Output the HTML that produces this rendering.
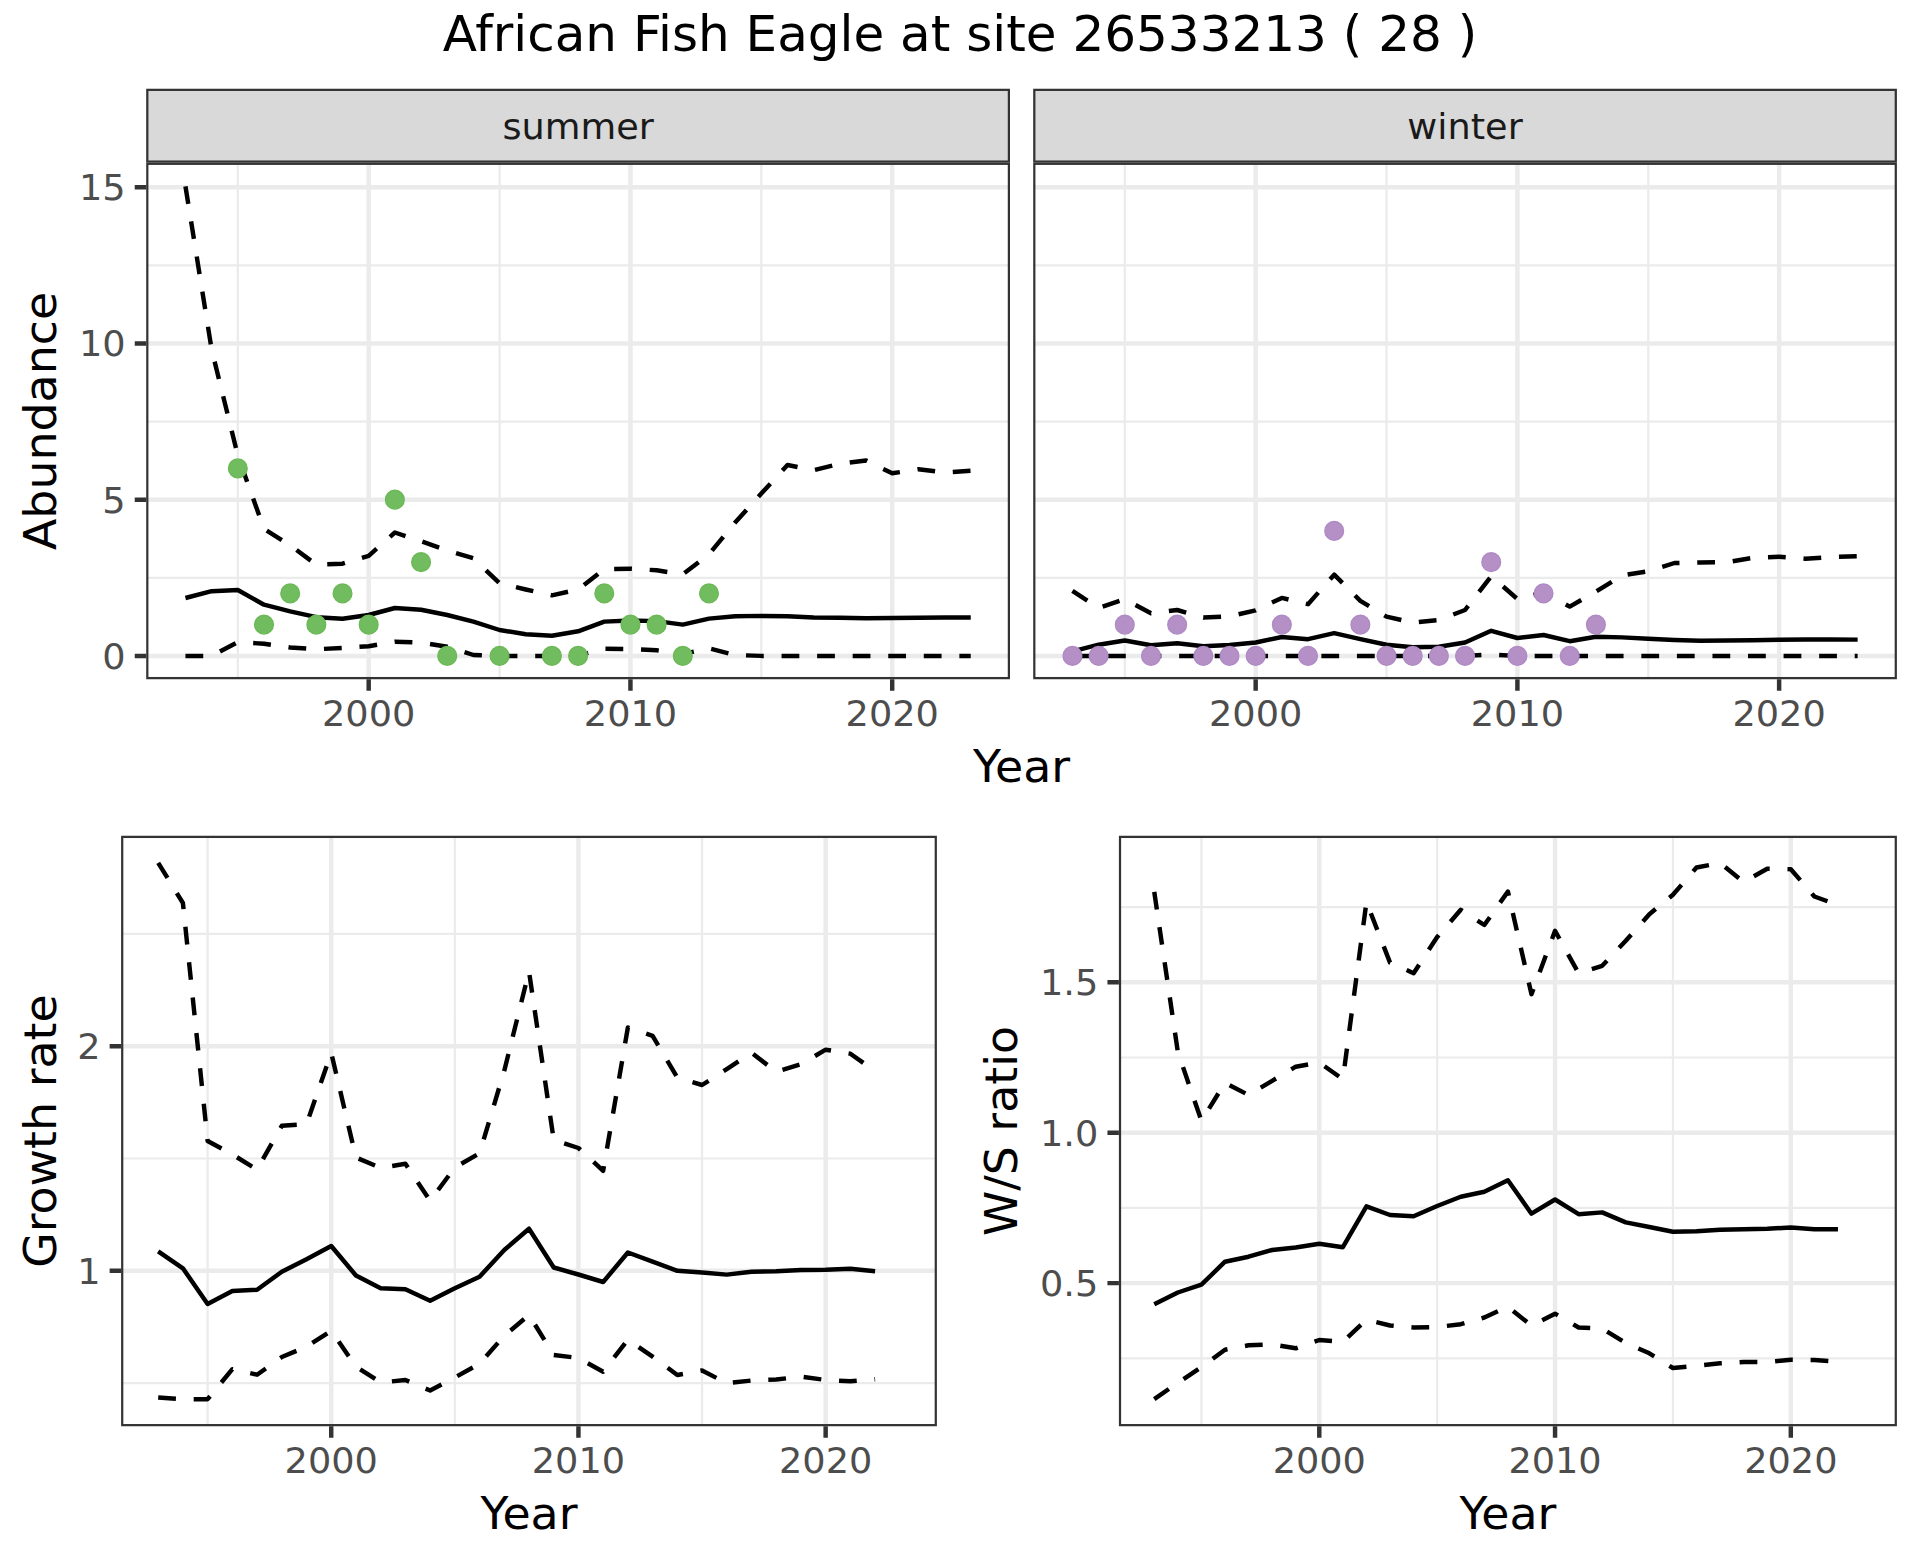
<!DOCTYPE html>
<html lang="en"><head><meta charset="utf-8"><title>African Fish Eagle at site 26533213 ( 28 )</title>
<style>html,body{margin:0;padding:0;background:#FFFFFF}svg{display:block}text{font-family:"DejaVu Sans", "Liberation Sans", sans-serif}</style></head><body>
<svg width="1920" height="1560" viewBox="0 0 1920 1560">
<rect x="0" y="0" width="1920" height="1560" fill="#FFFFFF"/>
<text x="960" y="50.5" font-size="50" fill="#000000" text-anchor="middle">African Fish Eagle at site 26533213 ( 28 )</text>
<clipPath id="c1"><rect x="146.2" y="162.7" width="863.8" height="516.5"/></clipPath>
<g clip-path="url(#c1)">
<rect x="146.2" y="162.7" width="863.8" height="516.5" fill="#FFFFFF"/>
<path d="M146.2 577.77H1010M146.2 421.52H1010M146.2 265.27H1010M237.82 162.7V679.2M499.57 162.7V679.2M761.33 162.7V679.2" stroke="#EBEBEB" stroke-width="2.22" fill="none"/>
<path d="M146.2 655.9H1010M146.2 499.65H1010M146.2 343.4H1010M146.2 187.15H1010M368.69 162.7V679.2M630.45 162.7V679.2M892.21 162.7V679.2" stroke="#EBEBEB" stroke-width="4.45" fill="none"/>
<polyline points="185.46,598 211.64,591.2 237.82,590 263.99,604.7 290.17,611.3 316.34,617.2 342.52,618.8 368.69,615 394.87,608 421.05,609.7 447.22,615 473.4,621.7 499.57,630 525.75,634.2 551.92,635.8 578.1,631.3 604.28,621.6 630.45,620.5 656.63,621.1 682.8,624.6 708.98,618.6 735.15,616.2 761.33,615.9 787.51,616.3 813.68,617.5 839.86,617.8 866.03,618.2 892.21,618 918.38,617.8 944.56,617.5 970.74,617.5" fill="none" stroke="#000000" stroke-width="4.45" stroke-linejoin="round" stroke-linecap="butt"/>
<polyline points="185.46,186.3 211.64,349.5 237.82,455.5 263.99,528.8 290.17,545.3 316.34,564.7 342.52,563.7 368.69,555.8 394.87,532.5 421.05,541.2 447.22,550.4 473.4,558.3 499.57,583.2 525.75,589.5 551.92,595.3 578.1,589.5 604.28,569.2 630.45,568.7 656.63,570.3 682.8,574.3 708.98,554.3 735.15,522.5 761.33,493.5 787.51,465 813.68,470.2 839.86,463.8 866.03,460.5 892.21,473.3 918.38,469.2 944.56,472.5 970.74,470.8" fill="none" stroke="#000000" stroke-width="4.45" stroke-linejoin="round" stroke-linecap="butt" stroke-dasharray="17.78 17.78" stroke-dashoffset="0"/>
<polyline points="185.46,655.9 211.64,655.9 237.82,642.2 263.99,643.7 290.17,647.5 316.34,649.2 342.52,648 368.69,646.2 394.87,641.7 421.05,642.5 447.22,646.7 473.4,655 499.57,655.9 525.75,655.9 551.92,655.9 578.1,655.5 604.28,648.8 630.45,649 656.63,650.3 682.8,654 708.98,648.4 735.15,655 761.33,655.9 787.51,655.9 813.68,655.9 839.86,655.9 866.03,655.9 892.21,655.9 918.38,655.9 944.56,655.9 970.74,655.9" fill="none" stroke="#000000" stroke-width="4.45" stroke-linejoin="round" stroke-linecap="butt" stroke-dasharray="17.78 17.78" stroke-dashoffset="0"/>
<g fill="#72BC60" stroke="#6AB956" stroke-width="1.3">
<circle cx="237.82" cy="468.4" r="9.4"/>
<circle cx="263.99" cy="624.65" r="9.4"/>
<circle cx="290.17" cy="593.4" r="9.4"/>
<circle cx="316.34" cy="624.65" r="9.4"/>
<circle cx="342.52" cy="593.4" r="9.4"/>
<circle cx="368.69" cy="624.65" r="9.4"/>
<circle cx="394.87" cy="499.65" r="9.4"/>
<circle cx="421.05" cy="562.15" r="9.4"/>
<circle cx="447.22" cy="655.9" r="9.4"/>
<circle cx="499.57" cy="655.9" r="9.4"/>
<circle cx="551.92" cy="655.9" r="9.4"/>
<circle cx="578.1" cy="655.9" r="9.4"/>
<circle cx="604.28" cy="593.4" r="9.4"/>
<circle cx="630.45" cy="624.65" r="9.4"/>
<circle cx="656.63" cy="624.65" r="9.4"/>
<circle cx="682.8" cy="655.9" r="9.4"/>
<circle cx="708.98" cy="593.4" r="9.4"/>
</g>
<rect x="146.2" y="162.7" width="863.8" height="516.5" fill="none" stroke="#333333" stroke-width="4.45"/>
</g>
<clipPath id="c2"><rect x="146.2" y="88.75" width="863.8" height="73.95"/></clipPath>
<rect clip-path="url(#c2)" x="146.2" y="88.75" width="863.8" height="73.95" fill="#D9D9D9" stroke="#333333" stroke-width="4.45"/>
<text transform="translate(578.1 139) scale(1 0.965)" font-size="36.67" fill="#1A1A1A" text-anchor="middle">summer</text>
<path d="M368.69 679.2V690.66M630.45 679.2V690.66M892.21 679.2V690.66" stroke="#333333" stroke-width="4.45" fill="none"/>
<text transform="translate(368.69 726.05) scale(1 0.965)" font-size="36.67" fill="#4D4D4D" text-anchor="middle">2000</text>
<text transform="translate(630.45 726.05) scale(1 0.965)" font-size="36.67" fill="#4D4D4D" text-anchor="middle">2010</text>
<text transform="translate(892.21 726.05) scale(1 0.965)" font-size="36.67" fill="#4D4D4D" text-anchor="middle">2020</text>
<path d="M134.74 655.9H146.2M134.74 499.65H146.2M134.74 343.4H146.2M134.74 187.15H146.2" stroke="#333333" stroke-width="4.45" fill="none"/>
<text transform="translate(125.57 668.8) scale(1 0.965)" font-size="36.67" fill="#4D4D4D" text-anchor="end">0</text>
<text transform="translate(125.57 512.55) scale(1 0.965)" font-size="36.67" fill="#4D4D4D" text-anchor="end">5</text>
<text transform="translate(125.57 356.3) scale(1 0.965)" font-size="36.67" fill="#4D4D4D" text-anchor="end">10</text>
<text transform="translate(125.57 200.05) scale(1 0.965)" font-size="36.67" fill="#4D4D4D" text-anchor="end">15</text>
<clipPath id="c3"><rect x="1033.2" y="162.7" width="863.7" height="516.5"/></clipPath>
<g clip-path="url(#c3)">
<rect x="1033.2" y="162.7" width="863.7" height="516.5" fill="#FFFFFF"/>
<path d="M1033.2 577.77H1896.9M1033.2 421.52H1896.9M1033.2 265.27H1896.9M1124.8 162.7V679.2M1386.53 162.7V679.2M1648.26 162.7V679.2" stroke="#EBEBEB" stroke-width="2.22" fill="none"/>
<path d="M1033.2 655.9H1896.9M1033.2 499.65H1896.9M1033.2 343.4H1896.9M1033.2 187.15H1896.9M1255.67 162.7V679.2M1517.4 162.7V679.2M1779.12 162.7V679.2" stroke="#EBEBEB" stroke-width="4.45" fill="none"/>
<polyline points="1072.46,651.3 1098.63,644.7 1124.8,640.5 1150.98,645.3 1177.15,643.3 1203.32,646.3 1229.5,645 1255.67,642.5 1281.84,637 1308.01,639.2 1334.19,633.2 1360.36,639.2 1386.53,644.7 1412.7,647.2 1438.88,646.7 1465.05,642.5 1491.22,630.8 1517.4,638 1543.57,635 1569.74,641.2 1595.91,636.7 1622.09,637.4 1648.26,638.8 1674.43,640 1700.6,640.7 1726.78,640.5 1752.95,640.3 1779.12,639.8 1805.3,639.5 1831.47,639.5 1857.64,639.6" fill="none" stroke="#000000" stroke-width="4.45" stroke-linejoin="round" stroke-linecap="butt"/>
<polyline points="1072.46,590.8 1098.63,608 1124.8,599.2 1150.98,613.3 1177.15,610 1203.32,617.5 1229.5,616.3 1255.67,610.3 1281.84,597.9 1308.01,604.2 1334.19,574.7 1360.36,600.8 1386.53,616.7 1412.7,622.5 1438.88,620 1465.05,610 1491.22,576.2 1517.4,599 1543.57,592.5 1569.74,606.6 1595.91,591.7 1622.09,575.4 1648.26,571.2 1674.43,563 1700.6,562.5 1726.78,562.2 1752.95,557.8 1779.12,556.7 1805.3,558.7 1831.47,557 1857.64,556.2" fill="none" stroke="#000000" stroke-width="4.45" stroke-linejoin="round" stroke-linecap="butt" stroke-dasharray="17.78 17.78" stroke-dashoffset="0"/>
<polyline points="1072.46,655.9 1098.63,655.9 1124.8,655.9 1150.98,655.9 1177.15,655.9 1203.32,655.9 1229.5,655.9 1255.67,655.9 1281.84,655.9 1308.01,655.9 1334.19,655.9 1360.36,655.9 1386.53,655.9 1412.7,655.9 1438.88,655.9 1465.05,655.9 1491.22,654.5 1517.4,655.9 1543.57,655.9 1569.74,655.9 1595.91,655.9 1622.09,655.9 1648.26,655.9 1674.43,655.9 1700.6,655.9 1726.78,655.9 1752.95,655.9 1779.12,655.9 1805.3,655.9 1831.47,655.9 1857.64,655.9" fill="none" stroke="#000000" stroke-width="4.45" stroke-linejoin="round" stroke-linecap="butt" stroke-dasharray="17.78 17.78" stroke-dashoffset="0"/>
<g fill="#B490C7" stroke="#AF89C4" stroke-width="1.3">
<circle cx="1072.46" cy="655.9" r="9.4"/>
<circle cx="1098.63" cy="655.9" r="9.4"/>
<circle cx="1124.8" cy="624.65" r="9.4"/>
<circle cx="1150.98" cy="655.9" r="9.4"/>
<circle cx="1177.15" cy="624.65" r="9.4"/>
<circle cx="1203.32" cy="655.9" r="9.4"/>
<circle cx="1229.5" cy="655.9" r="9.4"/>
<circle cx="1255.67" cy="655.9" r="9.4"/>
<circle cx="1281.84" cy="624.65" r="9.4"/>
<circle cx="1308.01" cy="655.9" r="9.4"/>
<circle cx="1334.19" cy="530.9" r="9.4"/>
<circle cx="1360.36" cy="624.65" r="9.4"/>
<circle cx="1386.53" cy="655.9" r="9.4"/>
<circle cx="1412.7" cy="655.9" r="9.4"/>
<circle cx="1438.88" cy="655.9" r="9.4"/>
<circle cx="1465.05" cy="655.9" r="9.4"/>
<circle cx="1491.22" cy="562.15" r="9.4"/>
<circle cx="1517.4" cy="655.9" r="9.4"/>
<circle cx="1543.57" cy="593.4" r="9.4"/>
<circle cx="1569.74" cy="655.9" r="9.4"/>
<circle cx="1595.91" cy="624.65" r="9.4"/>
</g>
<rect x="1033.2" y="162.7" width="863.7" height="516.5" fill="none" stroke="#333333" stroke-width="4.45"/>
</g>
<clipPath id="c4"><rect x="1033.2" y="88.75" width="863.7" height="73.95"/></clipPath>
<rect clip-path="url(#c4)" x="1033.2" y="88.75" width="863.7" height="73.95" fill="#D9D9D9" stroke="#333333" stroke-width="4.45"/>
<text transform="translate(1465.05 139) scale(1 0.965)" font-size="36.67" fill="#1A1A1A" text-anchor="middle">winter</text>
<path d="M1255.67 679.2V690.66M1517.4 679.2V690.66M1779.12 679.2V690.66" stroke="#333333" stroke-width="4.45" fill="none"/>
<text transform="translate(1255.67 726.05) scale(1 0.965)" font-size="36.67" fill="#4D4D4D" text-anchor="middle">2000</text>
<text transform="translate(1517.4 726.05) scale(1 0.965)" font-size="36.67" fill="#4D4D4D" text-anchor="middle">2010</text>
<text transform="translate(1779.12 726.05) scale(1 0.965)" font-size="36.67" fill="#4D4D4D" text-anchor="middle">2020</text>
<text transform="translate(1021.55 781.9) scale(1 0.98)" font-size="45.83" fill="#000000" text-anchor="middle">Year</text>
<text transform="translate(56.2 420.95) rotate(-90) scale(1 0.98)" font-size="45.83" fill="#000000" text-anchor="middle">Abundance</text>
<clipPath id="c5"><rect x="121.1" y="835.8" width="815.8" height="590.45"/></clipPath>
<g clip-path="url(#c5)">
<rect x="121.1" y="835.8" width="815.8" height="590.45" fill="#FFFFFF"/>
<path d="M121.1 1383.1H936.9M121.1 1158.5H936.9M121.1 933.9H936.9M207.62 835.8V1426.25M454.84 835.8V1426.25M702.05 835.8V1426.25" stroke="#EBEBEB" stroke-width="2.22" fill="none"/>
<path d="M121.1 1270.8H936.9M121.1 1046.2H936.9M331.23 835.8V1426.25M578.44 835.8V1426.25M825.65 835.8V1426.25" stroke="#EBEBEB" stroke-width="4.45" fill="none"/>
<polyline points="158.18,1251.3 182.9,1268.3 207.62,1304 232.35,1291 257.07,1289.8 281.79,1271.8 306.51,1259.2 331.23,1246 355.95,1275.5 380.67,1288.2 405.39,1289.3 430.12,1300.8 454.84,1288.3 479.56,1276.7 504.28,1250 529,1228.7 553.72,1267.5 578.44,1274.5 603.16,1282 627.88,1252.5 652.61,1261.7 677.33,1270.8 702.05,1272.5 726.77,1274.6 751.49,1271.7 776.21,1271.3 800.93,1270 825.65,1269.8 850.38,1268.8 875.1,1271.2" fill="none" stroke="#000000" stroke-width="4.45" stroke-linejoin="round" stroke-linecap="butt"/>
<polyline points="158.18,862.8 182.9,903 207.62,1141 232.35,1154.4 257.07,1169.6 281.79,1125.8 306.51,1124.2 331.23,1052.9 355.95,1157.5 380.67,1167.8 405.39,1163.8 430.12,1200.7 454.84,1167.5 479.56,1153.3 504.28,1070.7 529,971.3 553.72,1140 578.44,1148 603.16,1170.8 627.88,1027.5 652.61,1035.8 677.33,1077.6 702.05,1085 726.77,1069.2 751.49,1052.8 776.21,1071.7 800.93,1064.2 825.65,1049.7 850.38,1053.7 875.1,1071.3" fill="none" stroke="#000000" stroke-width="4.45" stroke-linejoin="round" stroke-linecap="butt" stroke-dasharray="17.78 17.78" stroke-dashoffset="0"/>
<polyline points="158.18,1397.5 182.9,1399.2 207.62,1399.2 232.35,1369.2 257.07,1374.7 281.79,1357 306.51,1346.7 331.23,1330.8 355.95,1366.7 380.67,1382.5 405.39,1380 430.12,1390.5 454.84,1377.5 479.56,1363.8 504.28,1335.7 529,1315 553.72,1355 578.44,1358 603.16,1371.7 627.88,1339.7 652.61,1356.7 677.33,1375 702.05,1370.5 726.77,1383.2 751.49,1380.5 776.21,1379.5 800.93,1376.7 825.65,1380 850.38,1381.3 875.1,1379.2" fill="none" stroke="#000000" stroke-width="4.45" stroke-linejoin="round" stroke-linecap="butt" stroke-dasharray="17.78 17.78" stroke-dashoffset="0"/>
<rect x="121.1" y="835.8" width="815.8" height="590.45" fill="none" stroke="#333333" stroke-width="4.45"/>
</g>
<path d="M331.23 1426.25V1437.71M578.44 1426.25V1437.71M825.65 1426.25V1437.71" stroke="#333333" stroke-width="4.45" fill="none"/>
<text transform="translate(331.23 1473.1) scale(1 0.965)" font-size="36.67" fill="#4D4D4D" text-anchor="middle">2000</text>
<text transform="translate(578.44 1473.1) scale(1 0.965)" font-size="36.67" fill="#4D4D4D" text-anchor="middle">2010</text>
<text transform="translate(825.65 1473.1) scale(1 0.965)" font-size="36.67" fill="#4D4D4D" text-anchor="middle">2020</text>
<path d="M109.64 1270.8H121.1M109.64 1046.2H121.1" stroke="#333333" stroke-width="4.45" fill="none"/>
<text transform="translate(100.47 1283.7) scale(1 0.965)" font-size="36.67" fill="#4D4D4D" text-anchor="end">1</text>
<text transform="translate(100.47 1059.1) scale(1 0.965)" font-size="36.67" fill="#4D4D4D" text-anchor="end">2</text>
<text transform="translate(529 1529.1) scale(1 0.98)" font-size="45.83" fill="#000000" text-anchor="middle">Year</text>
<text transform="translate(55.8 1131.03) rotate(-90) scale(1 0.98)" font-size="45.83" fill="#000000" text-anchor="middle">Growth rate</text>
<clipPath id="c6"><rect x="1118.9" y="835.8" width="778" height="590.45"/></clipPath>
<g clip-path="url(#c6)">
<rect x="1118.9" y="835.8" width="778" height="590.45" fill="#FFFFFF"/>
<path d="M1118.9 1358.3H1896.9M1118.9 1207.9H1896.9M1118.9 1057.5H1896.9M1118.9 907.1H1896.9M1201.42 835.8V1426.25M1437.17 835.8V1426.25M1672.93 835.8V1426.25" stroke="#EBEBEB" stroke-width="2.22" fill="none"/>
<path d="M1118.9 1283.1H1896.9M1118.9 1132.7H1896.9M1118.9 982.3H1896.9M1319.29 835.8V1426.25M1555.05 835.8V1426.25M1790.81 835.8V1426.25" stroke="#EBEBEB" stroke-width="4.45" fill="none"/>
<polyline points="1154.26,1304.2 1177.84,1292.5 1201.42,1284.7 1224.99,1261.7 1248.57,1256.7 1272.14,1250 1295.72,1247.5 1319.29,1243.8 1342.87,1247.2 1366.45,1206.3 1390.02,1215 1413.6,1216.3 1437.17,1206 1460.75,1196.7 1484.32,1191.7 1507.9,1180.3 1531.48,1213.7 1555.05,1199.5 1578.63,1214.2 1602.2,1212.4 1625.78,1222.4 1649.35,1227 1672.93,1231.7 1696.51,1231.3 1720.08,1229.8 1743.66,1229.2 1767.23,1228.7 1790.81,1227.5 1814.38,1229.2 1837.96,1229.2" fill="none" stroke="#000000" stroke-width="4.45" stroke-linejoin="round" stroke-linecap="butt"/>
<polyline points="1154.26,891.9 1177.84,1052 1201.42,1120.8 1224.99,1082.8 1248.57,1095 1272.14,1080.8 1295.72,1066.7 1319.29,1062.5 1342.87,1079.2 1366.45,902 1390.02,962.6 1413.6,973.2 1437.17,937 1460.75,909.8 1484.32,925 1507.9,891.6 1531.48,994.2 1555.05,930.8 1578.63,973.3 1602.2,965.8 1625.78,940.8 1649.35,914.2 1672.93,894.8 1696.51,867.5 1720.08,863 1743.66,882 1767.23,868.8 1790.81,869.2 1814.38,896.5 1837.96,905" fill="none" stroke="#000000" stroke-width="4.45" stroke-linejoin="round" stroke-linecap="butt" stroke-dasharray="17.78 17.78" stroke-dashoffset="0"/>
<polyline points="1154.26,1399.2 1177.84,1382.8 1201.42,1367.2 1224.99,1349.7 1248.57,1345.3 1272.14,1344.3 1295.72,1348.3 1319.29,1340 1342.87,1341.7 1366.45,1319.7 1390.02,1325.5 1413.6,1327.5 1437.17,1327 1460.75,1324.2 1484.32,1317.5 1507.9,1306.7 1531.48,1325.7 1555.05,1313.7 1578.63,1327.5 1602.2,1328.7 1625.78,1343 1649.35,1353.3 1672.93,1368 1696.51,1365.8 1720.08,1363.3 1743.66,1362 1767.23,1362 1790.81,1359.7 1814.38,1360 1837.96,1361.7" fill="none" stroke="#000000" stroke-width="4.45" stroke-linejoin="round" stroke-linecap="butt" stroke-dasharray="17.78 17.78" stroke-dashoffset="0"/>
<rect x="1118.9" y="835.8" width="778" height="590.45" fill="none" stroke="#333333" stroke-width="4.45"/>
</g>
<path d="M1319.29 1426.25V1437.71M1555.05 1426.25V1437.71M1790.81 1426.25V1437.71" stroke="#333333" stroke-width="4.45" fill="none"/>
<text transform="translate(1319.29 1473.1) scale(1 0.965)" font-size="36.67" fill="#4D4D4D" text-anchor="middle">2000</text>
<text transform="translate(1555.05 1473.1) scale(1 0.965)" font-size="36.67" fill="#4D4D4D" text-anchor="middle">2010</text>
<text transform="translate(1790.81 1473.1) scale(1 0.965)" font-size="36.67" fill="#4D4D4D" text-anchor="middle">2020</text>
<path d="M1107.44 1283.1H1118.9M1107.44 1132.7H1118.9M1107.44 982.3H1118.9" stroke="#333333" stroke-width="4.45" fill="none"/>
<text transform="translate(1098.27 1296) scale(1 0.965)" font-size="36.67" fill="#4D4D4D" text-anchor="end">0.5</text>
<text transform="translate(1098.27 1145.6) scale(1 0.965)" font-size="36.67" fill="#4D4D4D" text-anchor="end">1.0</text>
<text transform="translate(1098.27 995.2) scale(1 0.965)" font-size="36.67" fill="#4D4D4D" text-anchor="end">1.5</text>
<text transform="translate(1507.9 1529.1) scale(1 0.98)" font-size="45.83" fill="#000000" text-anchor="middle">Year</text>
<text transform="translate(1016.5 1131.03) rotate(-90) scale(1 0.98)" font-size="45.83" fill="#000000" text-anchor="middle">W/S ratio</text>
</svg></body></html>
